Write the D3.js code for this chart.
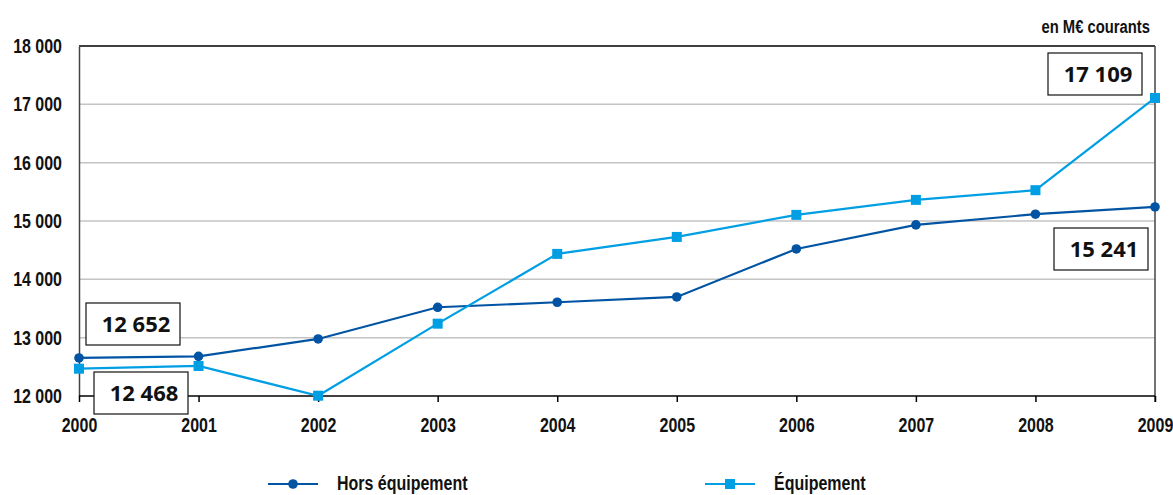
<!DOCTYPE html>
<html>
<head>
<meta charset="utf-8">
<script src="https://cdn.jsdelivr.net/npm/d3@7"></script>
<style>
  html, body { margin: 0; padding: 0; background: #fff; }
  svg { display: block; }
  .cond { font-family: "Liberation Sans", Arial, sans-serif; font-weight: bold; }
  .val { font-family: "Open Sans", "Liberation Sans", sans-serif; font-weight: bold; }
</style>
</head>
<body>
<svg id="chart" width="1173" height="495"></svg>
<script>
// Dépenses en M€ courants, 2000-2009
const years = [2000, 2001, 2002, 2003, 2004, 2005, 2006, 2007, 2008, 2009];
const horsEquipement = [12652, 12680, 12978, 13521, 13607, 13698, 14521, 14933, 15117, 15241];
const equipement = [12468, 12515, 12005, 13240, 14436, 14727, 15105, 15362, 15528, 17109];
const yTicks = [12000, 13000, 14000, 15000, 16000, 17000, 18000];
const seriesNames = ["Hors équipement", "Équipement"];
const seriesColors = ["#0054a3", "#009fe3"];

const svg = d3.select("#chart");
const plotLeft = 79, plotRight = 1155, plotTop = 46, plotBottom = 396;
const squeeze = 0.78;   // horizontal compression for the narrow label face
const labelSize = 20.5;

const x = d3.scaleLinear().domain([2000, 2009]).range([plotLeft, plotRight]);
const y = d3.scaleLinear().domain([12000, 18000]).range([plotBottom, plotTop]);

const fmt = v => d3.format(",")(v).replace(/,/g, " ");

// narrow bold text anchored at (px, py)
function narrowText(parent, px, py, txt, anchor, size) {
  return parent.append("g").attr("transform", `translate(${px},${py})`)
    .append("text").attr("class", "cond")
    .attr("transform", `scale(${squeeze},1)`)
    .attr("text-anchor", anchor).attr("font-size", size).attr("fill", "#111")
    .text(txt);
}

// grid lines
svg.append("g").selectAll("line")
  .data(yTicks.filter(t => t > 12000 && t < 18000))
  .join("line")
  .attr("x1", plotLeft).attr("x2", plotRight)
  .attr("y1", d => y(d)).attr("y2", d => y(d))
  .attr("stroke", "#c4c4c4").attr("stroke-width", 1.5);

// frame: top and right borders
svg.append("line").attr("x1", plotLeft).attr("x2", plotRight).attr("y1", plotTop).attr("y2", plotTop)
  .attr("stroke", "#000").attr("stroke-width", 1.5);
svg.append("line").attr("x1", plotRight).attr("x2", plotRight).attr("y1", plotTop).attr("y2", plotBottom + 6)
  .attr("stroke", "#444").attr("stroke-width", 1.5);

// y axis
const yAxis = svg.append("g").attr("transform", `translate(${plotLeft},0)`)
  .call(d3.axisLeft(y).tickValues(yTicks).tickSize(0).tickPadding(17).tickFormat(fmt));
yAxis.select(".domain").attr("stroke", "#444").attr("stroke-width", 1.5);
yAxis.selectAll("text").attr("class", "cond").attr("font-size", labelSize).attr("fill", "#111")
  .attr("x", -17 / squeeze).attr("transform", `scale(${squeeze},1)`);

// x axis
const xAxis = svg.append("g").attr("transform", `translate(0,${plotBottom})`)
  .call(d3.axisBottom(x).tickValues(years).tickSize(6).tickPadding(15).tickFormat(d3.format("d")));
xAxis.select(".domain").attr("stroke", "#000").attr("stroke-width", 1.5).attr("d", `M${plotLeft},0H${plotRight}`);
xAxis.selectAll(".tick line").attr("stroke", "#000").attr("stroke-width", 1.5);
xAxis.selectAll("text").attr("class", "cond").attr("font-size", labelSize).attr("fill", "#111")
  .attr("transform", `scale(${squeeze},1)`);

// unit label
narrowText(svg, 1150, 33, "en M€ courants", "end", 19);

const line = d3.line().x((d, i) => x(years[i])).y(d => y(d));

// Hors équipement
svg.append("path").datum(horsEquipement).attr("d", line)
  .attr("fill", "none").attr("stroke", seriesColors[0]).attr("stroke-width", 2.2);
svg.append("g").selectAll("circle").data(horsEquipement).join("circle")
  .attr("cx", (d, i) => x(years[i])).attr("cy", d => y(d)).attr("r", 4.8)
  .attr("fill", seriesColors[0]);

// Équipement
svg.append("path").datum(equipement).attr("d", line)
  .attr("fill", "none").attr("stroke", seriesColors[1]).attr("stroke-width", 2.2);
svg.append("g").selectAll("rect").data(equipement).join("rect")
  .attr("x", (d, i) => x(years[i]) - 5).attr("y", d => y(d) - 5)
  .attr("width", 10).attr("height", 10)
  .attr("fill", seriesColors[1]);

// value boxes
const boxes = [
  { v: horsEquipement[0], x0: 86, y0: 303 },
  { v: equipement[0], x0: 94, y0: 372 },
  { v: equipement[9], x0: 1048, y0: 53 },
  { v: horsEquipement[9], x0: 1054, y0: 228 }
];
const bw = 94, bh = 42;
const bg = svg.append("g").selectAll("g").data(boxes).join("g")
  .attr("transform", d => `translate(${d.x0},${d.y0})`);
bg.append("rect").attr("width", bw).attr("height", bh)
  .attr("fill", "#fff").attr("stroke", "#111").attr("stroke-width", 1.2);
bg.append("text").attr("class", "val").attr("x", bw / 2 + 3).attr("y", bh / 2 + 8)
  .attr("text-anchor", "middle").attr("font-size", 22).attr("fill", "#111")
  .text(d => fmt(d.v));

// legend
const legend = [
  { name: seriesNames[0], color: seriesColors[0], shape: "circle", x0: 268 },
  { name: seriesNames[1], color: seriesColors[1], shape: "square", x0: 705 }
];
const ly = 484;
const lg = svg.append("g").selectAll("g").data(legend).join("g")
  .attr("transform", d => `translate(${d.x0},${ly})`);
lg.append("line").attr("x1", 0).attr("x2", 50).attr("y1", 0).attr("y2", 0)
  .attr("stroke", d => d.color).attr("stroke-width", 2.2);
lg.filter(d => d.shape === "circle").append("circle")
  .attr("cx", 25).attr("cy", 0).attr("r", 4.8).attr("fill", d => d.color);
lg.filter(d => d.shape === "square").append("rect")
  .attr("x", 20).attr("y", -5).attr("width", 10).attr("height", 10).attr("fill", d => d.color);
lg.each(function (d) { narrowText(d3.select(this), 69, 6, d.name, "start", labelSize); });
</script>
</body>
</html>
